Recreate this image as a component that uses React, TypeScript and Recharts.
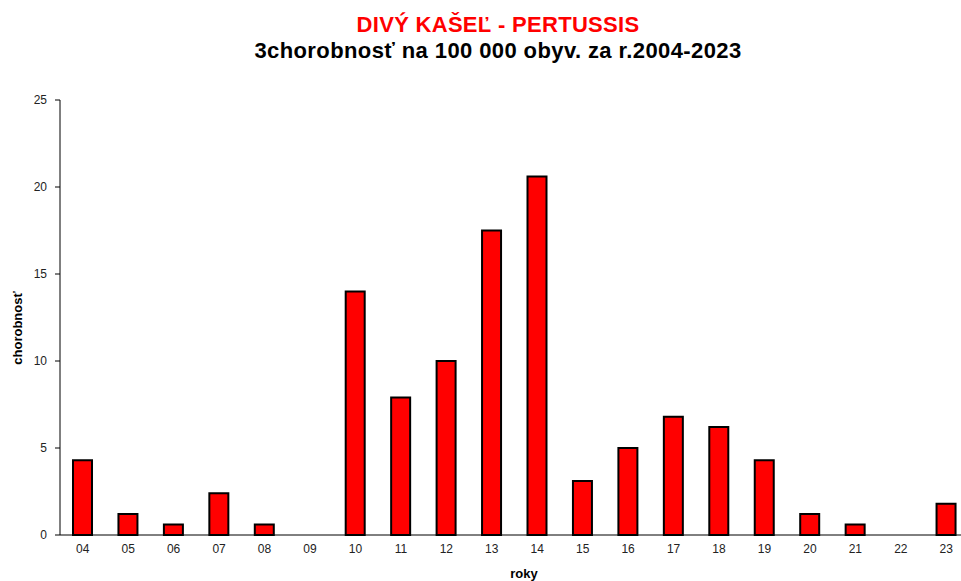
import { BarChart, Bar, XAxis, YAxis } from "recharts";

const years = ["04", "05", "06", "07", "08", "09", "10", "11", "12", "13", "14", "15", "16", "17", "18", "19", "20", "21", "22", "23"];
const incidence = [4.3, 1.2, 0.6, 2.4, 0.6, 0, 14.0, 7.9, 10.0, 17.5, 20.6, 3.1, 5.0, 6.8, 6.2, 4.3, 1.2, 0.6, 0, 1.8];
const yTicks = [0, 5, 10, 15, 20, 25];
const edgeTicks = years.map((_, i) => i).concat([years.length]);

const data = years.map((year, i) => ({ year, value: incidence[i] }));

const font = "'Liberation Sans', Arial, sans-serif";

export default function App() {
  return (
    <div
      style={{
        position: "absolute",
        left: 0,
        top: 0,
        width: 961,
        height: 581,
        overflow: "hidden",
        background: "#fff",
        fontFamily: font,
      }}
    >
      <div style={{ position: "absolute", left: 0, width: 996, top: 12, textAlign: "center", color: "#ff0000", fontWeight: "bold", fontSize: 22, letterSpacing: 0.3 }}>
        DIVÝ KAŠEĽ - PERTUSSIS
      </div>
      <div style={{ position: "absolute", left: 0, width: 996, top: 38, textAlign: "center", color: "#000", fontWeight: "bold", fontSize: 22, letterSpacing: 0.4 }}>
        3chorobnosť na 100 000 obyv. za r.2004-2023
      </div>
      <div
        style={{
          position: "absolute",
          left: 17,
          top: 328,
          transform: "translate(-50%, -50%) rotate(-90deg)",
          fontSize: 13,
          fontWeight: "bold",
          color: "#000",
          whiteSpace: "nowrap",
        }}
      >
        chorobnosť
      </div>
      <div style={{ position: "absolute", left: 524, top: 566, transform: "translateX(-50%)", fontSize: 13, fontWeight: "bold", color: "#000" }}>
        roky
      </div>
      <BarChart
        width={990}
        height={581}
        data={data}
        margin={{ top: 100, right: 21, bottom: 16, left: 20 }}
        barCategoryGap={0}
      >
        <XAxis
          xAxisId="edges"
          type="number"
          dataKey="edge"
          domain={[0, years.length]}
          ticks={edgeTicks}
          height={0}
          axisLine={false}
          tickSize={6}
          tickLine={{ stroke: "#000" }}
          tickFormatter={() => ""}
          allowDataOverflow
        />
        <XAxis
          xAxisId="cat"
          dataKey="year"
          height={30}
          axisLine={{ stroke: "#000" }}
          tickLine={false}
          tickSize={0}
          tickMargin={9}
          tick={{ fontSize: 12, fill: "#222", fontFamily: font }}
          interval={0}
        />
        <YAxis
          domain={[0, 25]}
          ticks={yTicks}
          width={40}
          axisLine={{ stroke: "#000" }}
          tickLine={{ stroke: "#000" }}
          tickSize={5}
          tickMargin={8}
          tick={{ fontSize: 12, fill: "#222", fontFamily: font }}
        />
        <Bar
          xAxisId="cat"
          dataKey="value"
          fill="#ff0000"
          stroke="#000"
          strokeWidth={2}
          barSize={19}
          isAnimationActive={false}
        />
      </BarChart>
    </div>
  );
}
